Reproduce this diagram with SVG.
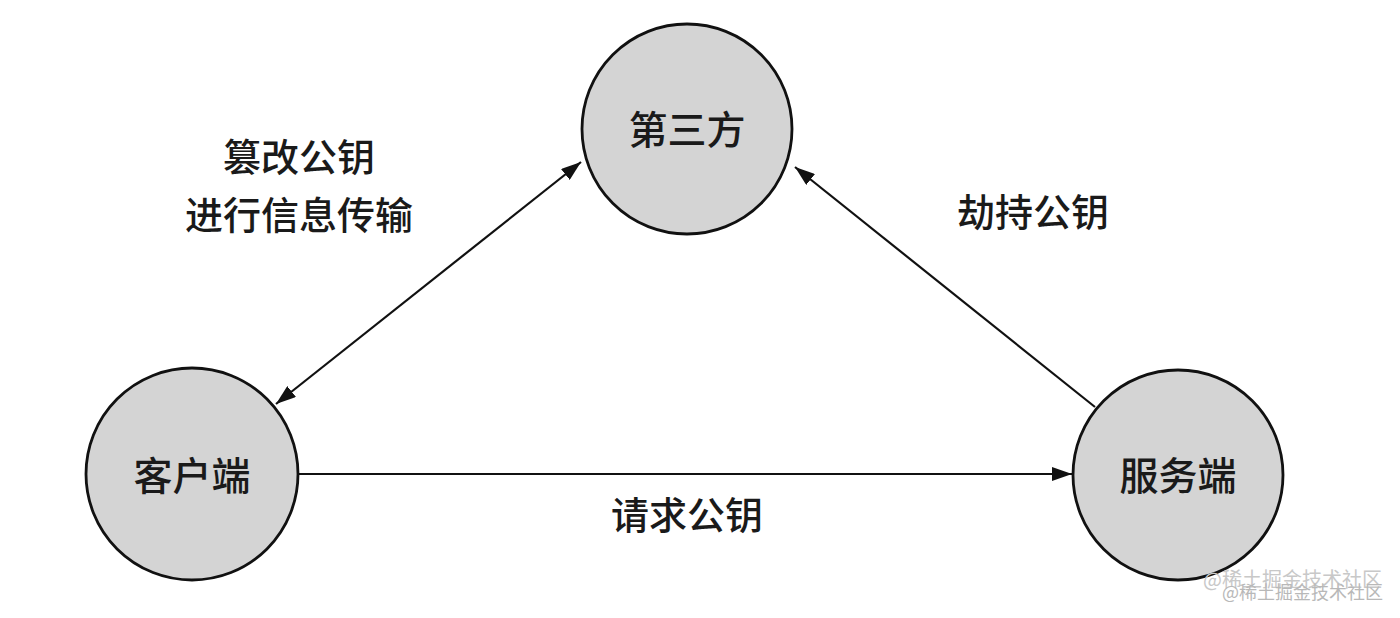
<svg xmlns="http://www.w3.org/2000/svg" width="1400" height="618" viewBox="0 0 1400 618">
<style>
.node circle{fill:#d4d4d4;stroke:#111;stroke-width:2.8}
text{font-family:"Noto Sans CJK SC","Noto Sans",sans-serif;fill:#1a1a1a;font-weight:500}
.nl{font-size:39px;text-anchor:middle;dominant-baseline:central}
.el{font-size:38px;text-anchor:middle}
.wm{font-size:20px;fill:#c8c8c8;font-weight:400}
.conn line{stroke:#111;stroke-width:2.2}
</style>
<defs>
<marker id="ah" viewBox="0 0 20 14" refX="20" refY="7" markerWidth="20" markerHeight="14" markerUnits="userSpaceOnUse" orient="auto-start-reverse">
<path d="M0,0 L20,7 L0,14 z" fill="#111"/>
</marker>
</defs>
<rect width="1400" height="618" fill="#fff"/>
<g class="conn">
<line x1="298" y1="474" x2="1072" y2="474" marker-end="url(#ah)"/>
<line x1="276" y1="404" x2="581" y2="162" marker-start="url(#ah)" marker-end="url(#ah)"/>
<line x1="1095" y1="407" x2="795" y2="167" marker-end="url(#ah)"/>
</g>
<g id="node-third" class="node">
<circle cx="687" cy="129" r="105"/>
<text class="nl" x="687" y="127">第三方</text>
</g>
<g id="node-client" class="node">
<circle cx="192" cy="474" r="106"/>
<text class="nl" x="192" y="473">客户端</text>
</g>
<g id="node-server" class="node">
<circle cx="1178" cy="475" r="105"/>
<text class="nl" x="1178" y="473">服务端</text>
</g>
<g id="labels">
<text class="el" x="299" y="171">篡改公钥</text>
<text class="el" x="299" y="229">进行信息传输</text>
<text class="el" x="1033" y="226">劫持公钥</text>
<text class="el" x="687" y="529">请求公钥</text>
</g>
<g id="watermark">
<text class="wm" x="1203" y="587">@稀土掘金技术社区</text>
<text class="wm" x="1222" y="599" style="font-size:18px;fill:#b8b8b8">@稀土掘金技术社区</text>
</g>
</svg>
